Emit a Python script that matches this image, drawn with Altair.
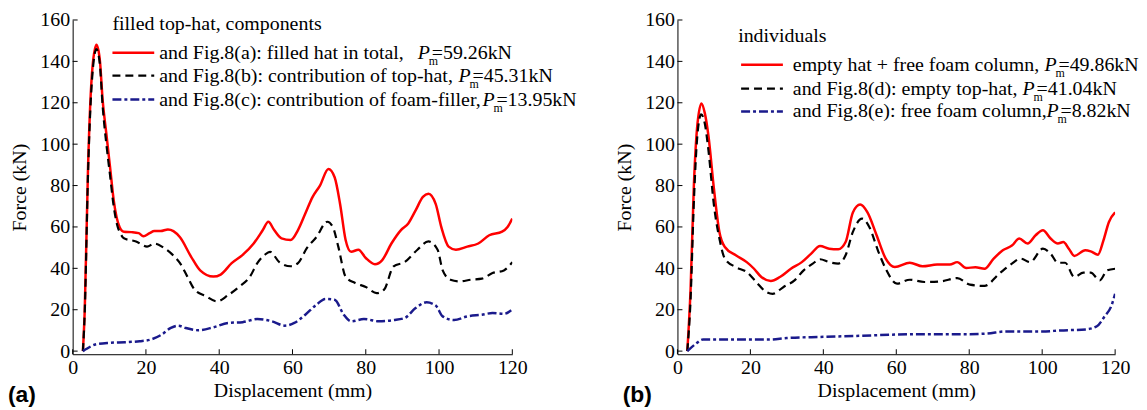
import altair as alt
import pandas as pd

# ---------------- data ----------------
# (a) filled top-hat, components
a_total_x = [2.8, 3.3, 4.2, 5.4, 6.5, 7.4, 8.2, 9.2, 10.2, 11.2, 12.8, 14, 16, 18, 19.3, 21, 22.3, 24, 26, 27.5,
             29.3, 32.3, 34.8, 38.4, 40.4, 43.4, 46.4, 49.4, 51.9, 53.4, 55, 57, 59.5, 61.5, 63.5, 65.5, 67.5,
             69.8, 71.5, 73, 74.5, 76, 78, 80, 82.5, 84.5, 87, 89.6, 91.6, 93.6, 95.6, 97.1, 99.1, 100.6,
             102.6, 104.6, 107.7, 110.7, 113.7, 117.2, 118.7, 120]
a_total_y = [0, 20, 89, 137, 148, 141, 121, 105, 89, 73, 60, 57.7, 57.5, 57, 55.5, 57, 58, 58, 58.8, 58,
             55, 45.7, 39, 36, 37, 42.5, 46.5, 52, 58.5, 62.5, 58.5, 54.5, 53.7, 58.5, 66.5, 74.5, 80,
             88, 84, 71, 53.7, 48, 49, 45, 42, 44, 52, 58.5, 61.7, 68, 74.5, 76, 71, 60,
             50.5, 49, 50.5, 52, 56, 57.7, 60, 64]

a_hat_x = [2.8, 3.3, 4.2, 5.4, 6.5, 7.4, 8.2, 9.2, 10.2, 11.2, 12.3, 13, 14, 17.3, 20.3, 22.3, 24.8, 27.3,
           29.3, 31.3, 33.3, 36.4, 39.4, 42.4, 45.4, 48.4, 50.4, 52.4, 53.9, 56.4, 59.5, 61.5, 64, 66.5,
           69.5, 71, 72.5, 74.5, 77, 80, 83, 85, 87.6, 90.6, 94.1, 97.1, 99.6, 101, 103.1, 105.6, 108.7,
           111.7, 114.6, 117.7, 120]
a_hat_y = [0, 19, 86, 134, 146, 139, 118, 100, 85, 70, 60, 57, 54.5, 53, 50.5, 52, 50, 46.5,
           42.5, 36, 29.7, 26.5, 24, 27, 31, 36, 42.5, 46.5, 48, 43, 41, 42.5, 50, 55,
           62.5, 60, 50.5, 36, 33, 31, 28, 29.7, 41, 43, 49, 53, 49, 39, 34.5, 33.7, 34.5,
           35, 37.7, 39, 43]

a_foam_x = [2.8, 3.7, 6.2, 10.2, 14.3, 18.3, 21.3, 24.3, 26.8, 28.8, 30.8, 34.3, 38.4, 42.4, 46.4, 50.4,
            54.4, 57.9, 60.5, 63.5, 66.5, 69, 71.5, 74, 76, 79.5, 83.6, 87.6, 90.6, 93.6, 96.6, 99.1,
            101, 104.1, 107.7, 111.7, 114.6, 117.7, 119.7]
a_foam_y = [0, 1, 3.2, 4, 4.3, 4.8, 5.6, 8, 11.2, 12.3, 11.2, 10.1, 11.5, 13.6, 14, 15.5,
            14.4, 12.3, 13.6, 17.6, 22.4, 25.2, 24.8, 17.6, 14.4, 15.5, 14.4, 15, 16, 20.8, 23.6, 22,
            16.8, 15, 16.8, 17.6, 18.4, 18, 19.7]

# (b) individuals
b_sum_x = [2.7, 3.6, 4.5, 5.5, 6.6, 7.5, 8.5, 10, 11.5, 13, 16, 19, 21, 23, 25.6, 28.1, 31.1, 34.1, 36.6,
           39.1, 41.6, 44.1, 46.1, 48.1, 50.1, 52.1, 54.6, 57.1, 59.6, 63.7, 67.2, 71.2, 74.7, 76.7, 79.2,
           81.7, 84.2, 86.7, 89.2, 91.7, 93.7, 96, 98.2, 100.2, 102.3, 104.3, 105.8, 107.3, 108.8, 111.8,
           113.3, 115.3, 116.8, 118.3, 120]
b_sum_y = [0, 30, 80, 110, 119.7, 115, 104, 78.5, 57.6, 50.3, 46.3, 43, 39.8, 35.8, 33.9, 35.8, 39.8, 43, 47,
           50.8, 49.5, 49.2, 52.7, 67, 70.8, 67, 56, 44.7, 40.6, 42.7, 41, 41.8, 41.8, 43, 40.2,
           40.5, 39.8, 44.7, 48.7, 51, 54.4, 52, 56, 58.4, 54.4, 52, 52.7, 49.5, 46, 48.7,
           48.2, 46.6, 53.5, 62.4, 67]

b_hat_x = [2.7, 3.6, 4.5, 5.5, 6.5, 7.5, 8.5, 10, 11.5, 13, 16, 19, 21.6, 24.1, 26.1, 29.1, 32.1, 34.6, 37.1,
           39.1, 41.6, 44.1, 46.1, 48.1, 50.6, 52.6, 55.1, 57.1, 60.2, 63.7, 67.7, 72.2, 76.7, 80.2, 84.2,
           88.2, 91.7, 94.1, 96.7, 100.2, 102.3, 104.3, 106.3, 108.8, 111.3, 113.3, 115.8, 117.8, 120]
b_hat_y = [0, 25, 72, 105, 114.4, 110, 97, 70.5, 54.4, 44.7, 40.6, 38.2, 33.4, 28.9, 27.7, 31, 34.2, 39, 42.3,
           44.4, 43, 42.3, 46.3, 57.6, 64, 60, 48, 39.8, 32.6, 34.5, 33.4, 33.7, 35.3, 32.1, 31.5,
           37.4, 42.3, 44.7, 43, 49.5, 47.1, 42.7, 42.7, 35.8, 37.9, 37.9, 34.2, 39, 39.8]

b_foam_x = [2.7, 5, 7, 20, 25, 30, 40, 50, 60, 70, 80, 85, 90, 100, 105, 112, 115, 117, 119, 120]
b_foam_y = [0, 3.5, 5.6, 5.6, 5.6, 6.3, 6.9, 7.4, 8, 8.2, 8.2, 8.5, 9.5, 9.5, 10, 10.5, 12, 16.5, 22, 27.7]

x_ticks = [0, 20, 40, 60, 80, 100, 120]
y_ticks = [0, 20, 40, 60, 80, 100, 120, 140, 160]

a_title = "filled top-hat, components"
a_labels = ["and Fig.8(a): filled hat in total,", "and Fig.8(b): contribution of top-hat,",
            "and Fig.8(c): contribution of foam-filler,"]
a_values = ["=59.26kN", "=45.31kN", "=13.95kN"]
b_title = "individuals"
b_labels = ["empty hat + free foam column,", "and Fig.8(d): empty top-hat,",
            "and Fig.8(e): free foam column,"]
b_values = ["=49.86kN", "=41.04kN", "=8.82kN"]

# ---------------- styling ----------------
SERIF = "Liberation Serif"
RED, BLACK, BLUE = "#ff0000", "#000000", "#1a1a8c"
STYLES = [(RED, None, 2.5), (BLACK, [8, 5], 2.2), (BLUE, [9, 3, 3, 3], 2.5)]
H = 336
TICK = 5

AXIS_STYLE = dict(
    grid=False, domainColor="black", labelColor="black", titleColor="black",
    labelFont=SERIF, titleFont=SERIF, labelFontSize=20, titleFontSize=20, titleFontWeight="normal",
    ticks=False, tickSize=0, labelPadding=3, labelFlush=False,
)


def stroke_kw(col, dash, sw):
    kw = dict(color=col, strokeWidth=sw)
    if dash:
        kw["strokeDash"] = dash
    return kw


def one_text(txt, px, py, size=20, style="normal", font=SERIF, weight="normal"):
    return alt.Chart(pd.DataFrame({"t": [txt]})).mark_text(
        align="left", baseline="middle", font=font, fontSize=size, fontStyle=style,
        fontWeight=weight, color="black"
    ).encode(text="t:N", x=alt.value(px), y=alt.value(py))


def panel(series, width, title, labels, values, leg, panel_label, label_x):
    xs_scale = alt.Scale(domain=[0, 120], nice=False, zero=False)
    ys_scale = alt.Scale(domain=[-1.5, 160], nice=False, zero=False)
    layers = []
    for (xs, ys), (col, dash, sw) in zip(series, STYLES):
        df = pd.DataFrame({"disp": xs, "force": ys})
        layers.append(
            alt.Chart(df).mark_line(interpolate="monotone", clip=True, **stroke_kw(col, dash, sw)).encode(
                x=alt.X("disp:Q", scale=xs_scale,
                        axis=alt.Axis(values=x_ticks, title="Displacement (mm)", titlePadding=4,
                                      **AXIS_STYLE)),
                y=alt.Y("force:Q", scale=ys_scale,
                        axis=alt.Axis(values=y_ticks, title="Force (kN)", titlePadding=10,
                                      **AXIS_STYLE)),
            )
        )
    # inward-pointing tick marks, placed through the shared scales
    layers.append(
        alt.Chart(pd.DataFrame({"v": y_ticks})).mark_rule(color="black", strokeWidth=1).encode(
            y=alt.Y("v:Q", scale=ys_scale), x=alt.value(0), x2=alt.value(TICK)
        )
    )
    layers.append(
        alt.Chart(pd.DataFrame({"v": x_ticks})).mark_rule(color="black", strokeWidth=1).encode(
            x=alt.X("v:Q", scale=xs_scale), y=alt.value(H), y2=alt.value(H - TICK)
        )
    )
    # legend (drawn by hand, to get the subscripted P_m)
    tx, ty, sx0, sx1, tx0, ys, p_x = leg
    layers.append(one_text(title, tx, ty))
    for i, ((col, dash, sw), lab, val) in enumerate(zip(STYLES, labels, values)):
        y = ys[i]
        layers.append(
            alt.Chart(pd.DataFrame({"k": [0]})).mark_rule(**stroke_kw(col, dash, sw))
            .encode(x=alt.value(sx0), x2=alt.value(sx1), y=alt.value(y))
        )
        layers.append(one_text(lab, tx0, y))
        layers.append(one_text("P", p_x[i], y, style="italic"))
        layers.append(one_text("m", p_x[i] + 11, y + 8, size=12))
        layers.append(one_text(val, p_x[i] + 14, y))
    layers.append(one_text(panel_label, label_x, H + 41, size=23,
                           font="Liberation Sans", weight="bold"))
    return alt.layer(*layers).properties(width=width, height=H)


left = panel(
    [(a_total_x, a_total_y), (a_hat_x, a_hat_y), (a_foam_x, a_foam_y)], 442,
    a_title, a_labels, a_values,
    (40, 4, 40, 82, 87, [33, 56, 80], [347, 388, 412]),
    "(a)", -65,
)
right = panel(
    [(b_sum_x, b_sum_y), (b_hat_x, b_hat_y), (b_foam_x, b_foam_y)], 440,
    b_title, b_labels, b_values,
    (61, 16, 64, 106, 116, [45, 69, 92], [369, 347, 371]),
    "(b)", -55,
)

chart = alt.hconcat(left, right, spacing=166, bounds="flush").properties(
    padding={"left": 0, "top": 1, "right": 0, "bottom": 0}
).configure_view(strokeWidth=0)

chart.save("out.html", embed_options={"renderer": "svg", "actions": False})
